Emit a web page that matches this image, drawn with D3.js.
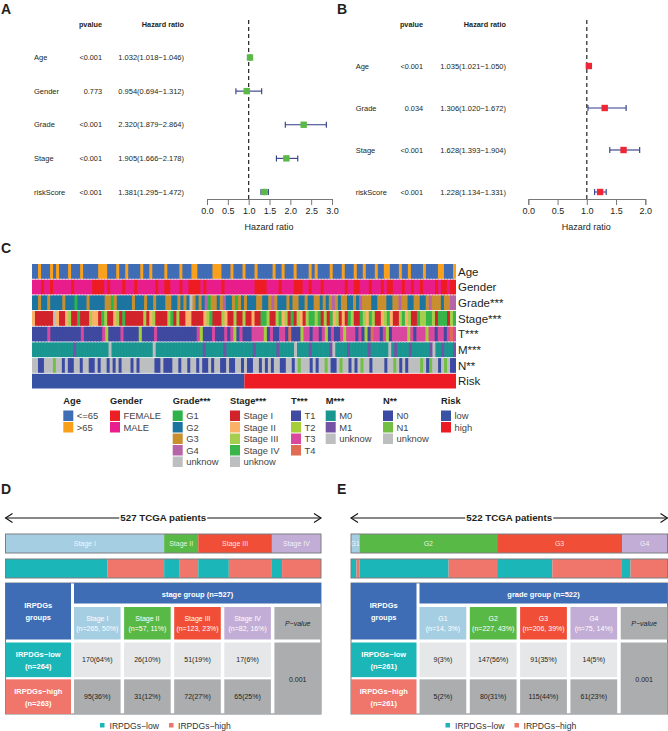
<!DOCTYPE html>
<html>
<head>
<meta charset="utf-8">
<script src="https://d3js.org/d3.v7.min.js"></script>
<style>
body { margin: 0; background: #fff; }
svg { display: block; }
text { font-family: "Liberation Sans", Arial, sans-serif; fill: #231f20; }
</style>
</head>
<body>
<div id="chart"></div>
<script>
// forest plot A
var namesA = ["Age", "Gender", "Grade", "Stage", "riskScore"];
var pvalA = ["<0.001", "0.773", "<0.001", "<0.001", "<0.001"];
var hrA = [1.032, 0.954, 2.320, 1.905, 1.381];
var lowA = [1.018, 0.694, 1.879, 1.666, 1.295];
var highA = [1.046, 1.312, 2.864, 2.178, 1.472];
var ticksA = [0, 0.5, 1, 1.5, 2, 2.5, 3];

// forest plot B
var namesB = ["Age", "Grade", "Stage", "riskScore"];
var pvalB = ["<0.001", "0.034", "<0.001", "<0.001"];
var hrB = [1.035, 1.306, 1.628, 1.228];
var lowB = [1.021, 1.020, 1.393, 1.134];
var highB = [1.050, 1.672, 1.904, 1.331];
var ticksB = [0, 0.5, 1, 1.5, 2];

// heatmap C, one letter per column left to right
var trackNames = ["Age", "Gender", "Grade***", "Stage***", "T***", "M***", "N**", "Risk"];
var ageCol = "aabaaababaaabaaabaaaaabbbaaabaabaaaabaabaaaabaa" + "aabaaabbaaaaabbbaaabaaabaaabaaaaabaabaaabaaaaba" + "baaaabaaabaaabaabaaabaabbaaabaabaaaabaaaabbaaab";
var genderCol = "mmmfmmfmmmmmmfmmmmmmffffmfmmmmfmmmfmmmmmmfmmffm" + "mmfmmffffmfmmmmmfmmmmmmmmmmffffmmmmfmmmmfffmmfm" + "mmfmmmmmmmfmmffmmmfmmmfmffmmmfmmfmmfmmmmfmffmff";
var gradeCol = "22322322223222122232222233132222232223223222332" + "23232u32324133234223132322233223432223233223223" + "3232343233223243332233322334332233223433323344";
var stageCol = "orrrrrruorrolrrgrrrloorglrrolrgrrrrrrlrolrrrrlg" + "rlrroorrrrolgrrrlorrlrrlrrorrgglrrlgolrgrlorlgg" + "lgrlrgolrorglrrgloglrrolgorrlgolrrgllgglrgggrlg";
var tCol = "u11113111111u111311111132111131111121111311111u1" + "11111132111311131321311133332131133141112331331" + "32131132333131214331321333332313332331331343";
var mCol = "00000000000000100000000000u00000000000000u000000" + "00000000001000000100000000010000000100000u0000100" + "00001u000010000001000000u01000010000001u0010001";
var nCol = "uu00uuu1uu0u00uu0uu00u0uu0u0u0uuu0u0uuuuu00u000" + "uu0uu0uu0u00u0uu00u00uu0u00uu0u0u0uu00uu0u1uuu0u" + "0uu1u00u1uu0u0u1uu0uuuu0uu1u0u0uuuu1u01uu0u1u00";
var riskCounts = [264, 263];

var ageKeys = ["<=65", ">65"];
var genderKeys = ["FEMALE", "MALE"];
var gradeKeys = ["G1", "G2", "G3", "G4", "unknow"];
var stageKeys = ["Stage I", "Stage II", "Stage III", "Stage IV", "unknow"];
var tKeys = ["T1", "T2", "T3", "T4"];
var mKeys = ["M0", "M1", "unknow"];
var nKeys = ["N0", "N1", "unknow"];
var riskKeys = ["low", "high"];

// tables D and E
var stageNames = ["Stage I", "Stage II", "Stage III", "Stage IV"];
var stageLow = [170, 26, 51, 17];
var stageHigh = [95, 31, 72, 65];
var stageLowPct = [64, 10, 19, 6];
var stageHighPct = [36, 12, 27, 25];
var stagePct = [50, 11, 23, 16];

var gradeNames = ["G1", "G2", "G3", "G4"];
var gradeLow = [9, 147, 91, 14];
var gradeHigh = [5, 80, 115, 61];
var gradeLowPct = [3, 56, 35, 5];
var gradeHighPct = [2, 31, 44, 23];
var gradePct = [3, 43, 39, 14];

var width = 668, height = 731;
var svg = d3.select("#chart").append("svg").attr("width", width).attr("height", height);

// the heatmap columns are thinner than a pixel in the original, so soften them sideways
var soft = svg.append("defs").append("filter").attr("id", "soft")
    .attr("x", "0").attr("y", "0").attr("width", "1").attr("height", "1");
soft.append("feGaussianBlur").attr("stdDeviation", "0.5 0");

function label(x, y, s, size, anchor, weight) {
    return svg.append("text").attr("x", x).attr("y", y).attr("text-anchor", anchor || "start")
        .attr("font-size", size).attr("font-weight", weight || "normal").text(s);
}

[["A", 1, 14], ["B", 337, 14], ["C", 1, 253], ["D", 1, 494], ["E", 337, 494]].forEach(function (d) {
    label(d[1], d[2], d[0], 14, "start", "bold");
});

function forest(names, pval, hr, low, high, ticks, o) {
    var x = d3.scaleLinear().domain([ticks[0], ticks[ticks.length - 1]]).range([o.x0, o.x1]);
    var y = d3.scalePoint().domain(names).range([o.yTop, o.yBottom]);

    label(o.pRight, 26.5, "pvalue", 7.3, "end", "bold");
    label(o.hrRight, 26.5, "Hazard ratio", 7.3, "end", "bold");

    svg.append("line").attr("x1", x(1)).attr("x2", x(1)).attr("y1", 20).attr("y2", 199)
        .attr("stroke", "#222").attr("stroke-width", 1.2).attr("stroke-dasharray", "4,3");

    names.forEach(function (n, i) {
        var yy = y(n);
        label(o.nameX, yy + 2.5, n, 7.5);
        label(o.pRight, yy + 2.5, pval[i], 7.3, "end");
        label(o.hrRight, yy + 2.5, hr[i].toFixed(3) + "(" + low[i].toFixed(3) + "\u2212" + high[i].toFixed(3) + ")", 7.5, "end");

        svg.append("line").attr("x1", x(low[i])).attr("x2", x(high[i])).attr("y1", yy).attr("y2", yy)
            .attr("stroke", o.lineColor).attr("stroke-width", 1.1);
        [low[i], high[i]].forEach(function (v) {
            svg.append("line").attr("x1", x(v)).attr("x2", x(v)).attr("y1", yy - 3).attr("y2", yy + 3)
                .attr("stroke", o.lineColor).attr("stroke-width", 1.1);
        });
        svg.append("rect").attr("x", x(hr[i]) - 3.2).attr("y", yy - 3.2).attr("width", 6.4).attr("height", 6.4)
            .attr("fill", o.color);
    });

    var axis = d3.axisBottom(x).tickValues(ticks).tickFormat(d3.format(".1f")).tickSize(6).tickPadding(2.5);
    var g = svg.append("g").attr("transform", "translate(0,199)").call(axis);
    g.selectAll("path,line").attr("stroke", "#777");
    g.selectAll("text").attr("font-size", 9).attr("font-family", null);
    label((o.x0 + o.x1) / 2 - 0.5, 230, "Hazard ratio", 9, "middle");
}

forest(namesA, pvalA, hrA, lowA, highA, ticksA, {
    x0: 207, x1: 332, yTop: 57.5, yBottom: 192, nameX: 34, pRight: 102, hrRight: 184,
    color: "#5cb947", lineColor: "#2e3a87"
});
forest(namesB, pvalB, hrB, lowB, highB, ticksB, {
    x0: 528.3, x1: 645.3, yTop: 66, yBottom: 192, nameX: 355.7, pRight: 423, hrRight: 506,
    color: "#ee2636", lineColor: "#2e3a87"
});

// heatmap
var colorAge = d3.scaleOrdinal().domain(ageKeys).range(["#3f6db5", "#f9a01b"]);
var colorGender = d3.scaleOrdinal().domain(genderKeys).range(["#ed1f24", "#e91e8c"]);
var colorGrade = d3.scaleOrdinal().domain(gradeKeys).range(["#2db34a", "#1b75a0", "#c98f2d", "#b565a7", "#bcbec0"]);
var colorStage = d3.scaleOrdinal().domain(stageKeys).range(["#d2232a", "#fbb267", "#a5ce4e", "#39b54a", "#bcbec0"]);
var colorT = d3.scaleOrdinal().domain(tKeys).range(["#3f4aa0", "#a6ce39", "#d9479e", "#e06c53"]);
var colorM = d3.scaleOrdinal().domain(mKeys).range(["#1a9690", "#7353a4", "#bcbec0"]);
var colorN = d3.scaleOrdinal().domain(nKeys).range(["#3b4ba3", "#72bf44", "#bcbec0"]);
var colorRisk = d3.scaleOrdinal().domain(riskKeys).range(["#3953a4", "#ed1c24"]);

var tracks = [
    { col: ageCol, keys: { a: "<=65", b: ">65" }, color: colorAge },
    { col: genderCol, keys: { f: "FEMALE", m: "MALE" }, color: colorGender },
    { col: gradeCol, keys: { 1: "G1", 2: "G2", 3: "G3", 4: "G4", u: "unknow" }, color: colorGrade },
    { col: stageCol, keys: { r: "Stage I", o: "Stage II", l: "Stage III", g: "Stage IV", u: "unknow" }, color: colorStage },
    { col: tCol, keys: { 1: "T1", 2: "T2", 3: "T3", 4: "T4", u: "T1" }, color: colorT },
    { col: mCol, keys: { 0: "M0", 1: "M1", u: "unknow" }, color: colorM },
    { col: nCol, keys: { 0: "N0", 1: "N1", u: "unknow" }, color: colorN }
];

var heatY = d3.scaleBand().domain(trackNames).range([264, 388.5]).paddingInner(0.06);
var heatLeft = 32, heatRight = 456;

tracks.forEach(function (t, i) {
    var cells = t.col.split("");
    var x = d3.scaleBand().domain(d3.range(cells.length)).range([heatLeft, heatRight]);
    // each cell runs on under the next one so no seam shows between them
    svg.append("g").attr("filter", "url(#soft)").selectAll("rect").data(cells).enter().append("rect")
        .attr("x", function (d, j) { return x(j); })
        .attr("y", heatY(trackNames[i]))
        .attr("width", function (d, j) { return j === cells.length - 1 ? x.bandwidth() : x.bandwidth() + 1; })
        .attr("height", heatY.bandwidth())
        .attr("fill", function (d) { return t.color(t.keys[d]); });
});

var riskX = d3.scaleLinear().domain([0, d3.sum(riskCounts)]).range([heatLeft, heatRight]);
svg.append("rect").attr("x", riskX(0)).attr("width", riskX(riskCounts[0]) - riskX(0))
    .attr("y", heatY("Risk")).attr("height", heatY.bandwidth()).attr("fill", colorRisk("low"));
svg.append("rect").attr("x", riskX(riskCounts[0])).attr("width", riskX(d3.sum(riskCounts)) - riskX(riskCounts[0]))
    .attr("y", heatY("Risk")).attr("height", heatY.bandwidth()).attr("fill", colorRisk("high"));

trackNames.forEach(function (n) {
    label(458, heatY(n) + heatY.bandwidth() / 2 + 4.2, n, 11.5);
});

// heatmap legend
var legendCols = [
    { title: "Age", keys: ageKeys, color: colorAge, x: 63.3 },
    { title: "Gender", keys: genderKeys, color: colorGender, x: 110 },
    { title: "Grade***", keys: gradeKeys, color: colorGrade, x: 172.7 },
    { title: "Stage***", keys: stageKeys, color: colorStage, x: 230 },
    { title: "T***", keys: tKeys, color: colorT, x: 291 },
    { title: "M***", keys: mKeys, color: colorM, x: 325.7 },
    { title: "N**", keys: nKeys, color: colorN, x: 383 },
    { title: "Risk", keys: riskKeys, color: colorRisk, x: 441 }
];
legendCols.forEach(function (c) {
    label(c.x, 404, c.title, 9.3, "start", "bold");
    c.keys.forEach(function (k, i) {
        var yy = 410.5 + i * 11.5;
        svg.append("rect").attr("x", c.x).attr("y", yy).attr("width", 10).attr("height", 10.5).attr("fill", c.color(k));
        label(c.x + 13.5, yy + 8.7, k, 9.4).style("fill", "#444");
    });
});

// panels D and E
var tealColor = "#1bb6b8", salmonColor = "#f0756b", blueColor = "#3f6db5";
var groupColors = ["#a6cee3", "#58b947", "#f04e37", "#c2add6"];

function patientPanel(o) {
    var total = d3.sum(o.low) + d3.sum(o.high);
    var nLow = d3.sum(o.low), nHigh = d3.sum(o.high);
    var x = d3.scaleLinear().domain([0, total]).range([o.left, o.right]);

    // arrow with the title over it
    var arrowY = 518;
    svg.append("line").attr("x1", o.left).attr("x2", o.right).attr("y1", arrowY).attr("y2", arrowY)
        .attr("stroke", "#111").attr("stroke-width", 1);
    [[o.left, 1], [o.right, -1]].forEach(function (a) {
        svg.append("path")
            .attr("d", d3.line()([[a[0] + a[1] * 7, arrowY - 4.5], [a[0], arrowY], [a[0] + a[1] * 7, arrowY + 4.5]]))
            .attr("fill", "none").attr("stroke", "#111").attr("stroke-width", 1.1);
    });
    var mid = (o.left + o.right) / 2;
    svg.append("rect").attr("x", mid - 44).attr("y", arrowY - 7).attr("width", 88).attr("height", 14).attr("fill", "#fff");
    label(mid, arrowY + 3.4, total + " TCGA patients", 9.7, "middle", "bold");

    // top bar with groups
    var cum = 0;
    o.names.forEach(function (n, i) {
        var c = o.low[i] + o.high[i];
        svg.append("rect").attr("x", x(cum)).attr("y", 534).attr("width", x(cum + c) - x(cum)).attr("height", 19)
            .attr("fill", groupColors[i]);
        var lbl = (x(cum + c) - x(cum) < 12) ? n.slice(-2) : n;
        label((x(cum) + x(cum + c)) / 2, 546, lbl, 7, "middle").style("fill", "#fff").style("fill-opacity", 0.85);

        svg.append("rect").attr("x", x(cum)).attr("y", 559).attr("width", x(cum + o.low[i]) - x(cum)).attr("height", 19)
            .attr("fill", tealColor);
        svg.append("rect").attr("x", x(cum + o.low[i])).attr("y", 559).attr("width", x(cum + c) - x(cum + o.low[i])).attr("height", 19)
            .attr("fill", salmonColor);
        cum += c;
    });
    [534, 559].forEach(function (yy) {
        svg.append("rect").attr("x", o.left).attr("y", yy).attr("width", o.right - o.left).attr("height", 19)
            .attr("fill", "none").attr("stroke", "#7c7e81").attr("stroke-width", 1);
    });

    // table
    var tableTop = 583, tableBottom = 714;
    var leftW = 65.5, tableX = o.left + leftW + 3;
    var colKeys = o.names.concat(["P-value"]);
    var cols = d3.scaleBand().domain(colKeys).range([tableX, o.right]).paddingInner(0.07);
    var rows = d3.scaleBand().domain(["low", "high"]).range([642.5, tableBottom]).paddingInner(0.06);
    var subTop = 607, subBottom = 639.5;

    svg.append("rect").attr("x", o.left).attr("y", tableTop).attr("width", o.right - o.left).attr("height", tableBottom - tableTop)
        .attr("fill", "#fff").attr("stroke", "#7c7e81").attr("stroke-width", 1);

    svg.append("rect").attr("x", o.left).attr("y", tableTop).attr("width", leftW).attr("height", subBottom - tableTop).attr("fill", blueColor);
    label(o.left + leftW / 2, 608, "IRPDGs", 7.5, "middle", "bold").style("fill", "#fff");
    label(o.left + leftW / 2, 620, "groups", 7.5, "middle", "bold").style("fill", "#fff");

    svg.append("rect").attr("x", tableX).attr("y", tableTop).attr("width", o.right - tableX).attr("height", 20.5).attr("fill", blueColor);
    label((tableX + o.right) / 2, 596.5, o.groupTitle + " (n=" + total + ")", 7.5, "middle", "bold").style("fill", "#fff");

    o.names.forEach(function (n, i) {
        var cx = cols(n) + cols.bandwidth() / 2;
        svg.append("rect").attr("x", cols(n)).attr("y", subTop).attr("width", cols.bandwidth()).attr("height", subBottom - subTop)
            .attr("fill", groupColors[i]);
        label(cx, 621, n, 7, "middle").style("fill", "#fff");
        label(cx, 631, "(n=" + (o.low[i] + o.high[i]) + ", " + o.pct[i] + "%)", 7, "middle").style("fill", "#fff");

        svg.append("rect").attr("x", cols(n)).attr("y", rows("low")).attr("width", cols.bandwidth()).attr("height", rows.bandwidth())
            .attr("fill", "#e6e7e8");
        label(cx, rows("low") + rows.bandwidth() / 2 + 2.5, o.low[i] + "(" + o.lowPct[i] + "%)", 7, "middle");
        svg.append("rect").attr("x", cols(n)).attr("y", rows("high")).attr("width", cols.bandwidth()).attr("height", rows.bandwidth())
            .attr("fill", "#acadaf");
        label(cx, rows("high") + rows.bandwidth() / 2 + 2.5, o.high[i] + "(" + o.highPct[i] + "%)", 7, "middle");
    });

    var pc = cols("P-value");
    svg.append("rect").attr("x", pc).attr("y", subTop).attr("width", cols.bandwidth()).attr("height", subBottom - subTop).attr("fill", "#acadaf");
    label(pc + cols.bandwidth() / 2, 625.5, "P\u2212value", 7, "middle").style("font-style", "italic");
    svg.append("rect").attr("x", pc).attr("y", rows("low")).attr("width", cols.bandwidth()).attr("height", tableBottom - rows("low")).attr("fill", "#acadaf");
    label(pc + cols.bandwidth() / 2, 681.5, o.pValue, 7, "middle");

    svg.append("rect").attr("x", o.left).attr("y", rows("low")).attr("width", leftW).attr("height", rows.bandwidth()).attr("fill", tealColor);
    label(o.left + leftW / 2, 657, "IRPDGs\u2212low", 7.5, "middle", "bold").style("fill", "#fff");
    label(o.left + leftW / 2, 669, "(n=" + nLow + ")", 7.5, "middle", "bold").style("fill", "#fff");
    svg.append("rect").attr("x", o.left).attr("y", rows("high")).attr("width", leftW).attr("height", rows.bandwidth()).attr("fill", salmonColor);
    label(o.left + leftW / 2, 694, "IRPDGs\u2212high", 7.5, "middle", "bold").style("fill", "#fff");
    label(o.left + leftW / 2, 706, "(n=" + nHigh + ")", 7.5, "middle", "bold").style("fill", "#fff");

    // bottom legend
    var lx = o.left + 94.5;
    svg.append("rect").attr("x", lx).attr("y", 723).attr("width", 4.5).attr("height", 4.5).attr("fill", tealColor);
    label(lx + 9.5, 728.5, "IRPDGs\u2212low", 8.6).style("fill", "#333");
    svg.append("rect").attr("x", lx + 69).attr("y", 723).attr("width", 4.5).attr("height", 4.5).attr("fill", salmonColor);
    label(lx + 78, 728.5, "IRPDGs\u2212high", 8.6).style("fill", "#333");
}

patientPanel({
    left: 5.5, right: 321, names: stageNames, low: stageLow, high: stageHigh,
    lowPct: stageLowPct, highPct: stageHighPct, pct: stagePct, groupTitle: "stage group", pValue: "0.001"
});
patientPanel({
    left: 351, right: 667.5, names: gradeNames, low: gradeLow, high: gradeHigh,
    lowPct: gradeLowPct, highPct: gradeHighPct, pct: gradePct, groupTitle: "grade group", pValue: "0.001"
});
</script>
</body>
</html>
